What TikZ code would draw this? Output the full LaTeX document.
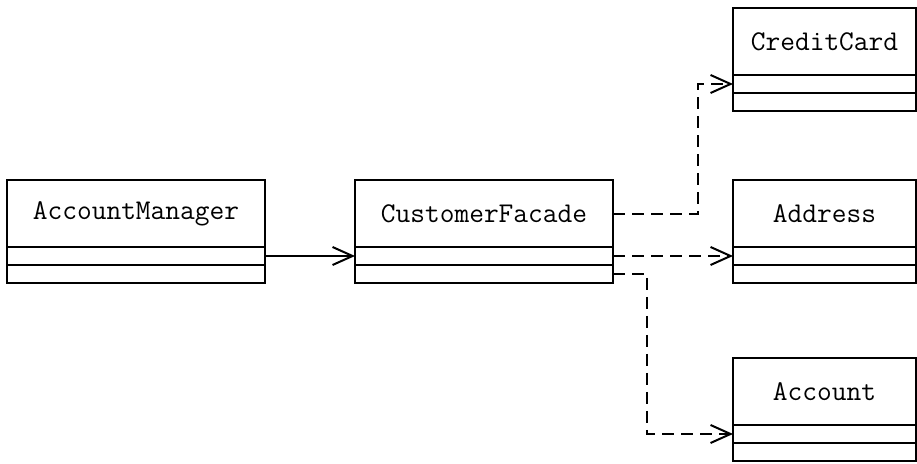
\documentclass[tikz,border=0pt]{standalone}
\usepackage{tikz}
\usetikzlibrary{arrows.meta,positioning}
\tikzset{
  namebox/.style={rectangle, draw=black, line width=1pt, outer sep=0pt, minimum width=129pt, minimum height=33.5pt, inner sep=0pt, font=\ttfamily\fontsize{14.3}{16}\selectfont},
  wnamebox/.style={namebox, minimum width=91.5pt},
  partbox/.style={rectangle, draw=black, line width=1pt, outer sep=0pt, minimum width=129pt, minimum height=9pt, inner sep=0pt},
  wpartbox/.style={partbox, minimum width=91.5pt},
  arrow/.style={-{Straight Barb[length=10pt,width=9pt,line width=1pt]}, line width=1pt, draw=black},
  softarrow/.style={arrow, dash pattern=on 6pt off 3.5pt}
}
\begin{document}
\begin{tikzpicture}[x=0.5pt, y=-0.5pt, node distance=0pt]
  \useasboundingbox (0,0) rectangle (917,464);
  % classes
  \node[namebox, anchor=north west] (mgr) at (7,180) {AccountManager};
  \node[partbox, below=of mgr] (mgrA) {};
  \node[partbox, below=of mgrA] (mgrO) {};
  \node[namebox, anchor=north west] (facade) at (355,180) {CustomerFacade};
  \node[partbox, below=of facade] (facadeA) {};
  \node[partbox, below=of facadeA] (facadeO) {};
  \node[wnamebox, anchor=north west] (card) at (733,8) {CreditCard};
  \node[wpartbox, below=of card] (cardA) {};
  \node[wpartbox, below=of cardA] (cardO) {};
  \node[wnamebox, anchor=north west] (addr) at (733,180) {Address};
  \node[wpartbox, below=of addr] (addrA) {};
  \node[wpartbox, below=of addrA] (addrO) {};
  \node[wnamebox, anchor=north west] (acct) at (733,358) {Account};
  \node[wpartbox, below=of acct] (acctA) {};
  \node[wpartbox, below=of acctA] (acctO) {};
  % relations
  \coordinate (cardBend) at (698,214);
  \coordinate (acctBend) at (647,274);
  \draw[arrow] (mgrA.east) -- (facadeA.west);
  \draw[softarrow] (facade.east |- cardBend) -- (cardBend) |- (cardA.west);
  \draw[softarrow] (facadeA.east) -- (addrA.west);
  \draw[softarrow] (facadeO.east |- acctBend) -- (acctBend) |- (acctA.west);
\end{tikzpicture}
\end{document}
